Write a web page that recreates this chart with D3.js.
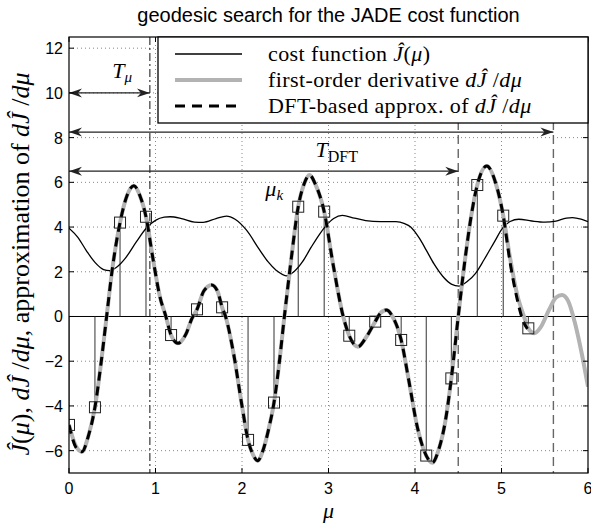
<!DOCTYPE html>
<html lang="en">
<head>
<meta charset="UTF-8">
<title>geodesic search for the JADE cost function</title>
<script src="https://d3js.org/d3.v7.min.js"></script>
<style>
  body { margin: 0; background: #fff; }
  svg { display: block; }
</style>
</head>
<body>
<div id="chart"></div>
<script>
// cost function J(mu)
const costMu  = [0.00, 0.10, 0.20, 0.30, 0.40, 0.47, 0.55, 0.65, 0.78, 0.90, 1.00, 1.10, 1.17, 1.30, 1.45, 1.55, 1.70, 1.82, 1.92, 2.05, 2.20, 2.30, 2.40, 2.51, 2.60, 2.70, 2.80, 2.90, 2.97, 3.06, 3.16, 3.30, 3.43, 3.60, 3.78, 3.88, 3.95, 4.05, 4.13, 4.22, 4.32, 4.42, 4.51, 4.60, 4.70, 4.80, 4.92, 5.01, 5.10, 5.20, 5.35, 5.50, 5.63, 5.75, 5.82, 5.92, 6.00];
const costVal = [3.95, 3.55, 2.95, 2.42, 2.10, 2.05, 2.20, 2.60, 3.35, 3.98, 4.30, 4.44, 4.46, 4.38, 4.22, 4.21, 4.38, 4.49, 4.35, 3.87, 3.00, 2.45, 2.05, 1.82, 2.00, 2.45, 3.10, 3.70, 4.05, 4.38, 4.52, 4.40, 4.29, 4.24, 4.24, 4.15, 4.00, 3.50, 2.97, 2.35, 1.80, 1.45, 1.36, 1.55, 1.93, 2.55, 3.35, 3.94, 4.25, 4.35, 4.27, 4.22, 4.27, 4.40, 4.42, 4.35, 4.24];

// first-order derivative dJ/dmu
const derivMu  = [0.00, 0.08, 0.15, 0.22, 0.30, 0.37, 0.435, 0.50, 0.59, 0.67, 0.75, 0.82, 0.89, 0.97, 1.05, 1.12, 1.18, 1.26, 1.35, 1.42, 1.48, 1.56, 1.65, 1.72, 1.77, 1.81, 1.90, 2.00, 2.07, 2.13, 2.18, 2.25, 2.31, 2.37, 2.43, 2.49, 2.57, 2.65, 2.72, 2.78, 2.85, 2.95, 3.05, 3.17, 3.24, 3.34, 3.44, 3.54, 3.60, 3.67, 3.74, 3.84, 3.93, 4.03, 4.13, 4.20, 4.27, 4.35, 4.42, 4.50, 4.58, 4.65, 4.72, 4.83, 4.93, 5.02, 5.10, 5.18, 5.26, 5.31, 5.38, 5.45, 5.55, 5.63, 5.70, 5.77, 5.85, 5.93, 6.00];
const derivVal = [-4.85, -5.80, -6.05, -5.40, -4.06, -2.10, 0.00, 2.10, 4.20, 5.40, 5.85, 5.40, 4.46, 2.60, 0.90, 0.00, -0.83, -1.20, -0.80, -0.10, 0.32, 1.15, 1.41, 1.10, 0.41, 0.00, -1.60, -4.00, -5.52, -6.20, -6.45, -5.90, -5.00, -3.85, -2.10, 0.00, 2.60, 4.91, 5.95, 6.33, 5.90, 4.69, 2.40, 0.00, -0.86, -1.35, -0.90, -0.23, 0.15, 0.29, 0.00, -1.05, -2.90, -5.00, -6.22, -6.54, -6.00, -4.70, -2.77, 0.00, 2.60, 4.50, 5.88, 6.73, 6.00, 4.51, 2.60, 1.00, 0.00, -0.53, -0.75, -0.50, 0.30, 0.85, 0.96, 0.70, -0.30, -1.70, -3.14];

// DFT-based approximation of dJ/dmu (stops at the last sample)
const dftMu  = [0.00, 0.08, 0.15, 0.22, 0.30, 0.37, 0.435, 0.50, 0.59, 0.67, 0.75, 0.82, 0.89, 0.97, 1.05, 1.12, 1.18, 1.26, 1.35, 1.42, 1.48, 1.56, 1.65, 1.72, 1.77, 1.81, 1.90, 2.00, 2.07, 2.13, 2.18, 2.25, 2.31, 2.37, 2.43, 2.49, 2.57, 2.65, 2.72, 2.78, 2.85, 2.95, 3.05, 3.17, 3.24, 3.34, 3.44, 3.54, 3.60, 3.67, 3.74, 3.84, 3.93, 4.03, 4.13, 4.20, 4.27, 4.35, 4.42, 4.50, 4.58, 4.65, 4.72, 4.83, 4.93, 5.02, 5.10, 5.18, 5.25, 5.30];
const dftVal = [-4.85, -5.85, -6.05, -5.40, -4.06, -2.10, 0.00, 2.10, 4.20, 5.40, 5.85, 5.40, 4.46, 2.60, 0.90, 0.00, -0.83, -1.20, -0.80, -0.10, 0.32, 1.15, 1.41, 1.10, 0.41, 0.00, -1.60, -4.00, -5.52, -6.20, -6.45, -5.90, -5.00, -3.85, -2.10, 0.00, 2.60, 4.91, 5.95, 6.33, 5.90, 4.69, 2.40, 0.00, -0.86, -1.35, -0.90, -0.23, 0.15, 0.29, 0.00, -1.05, -2.90, -5.00, -6.22, -6.54, -6.00, -4.70, -2.77, 0.00, 2.60, 4.50, 5.88, 6.73, 6.00, 4.51, 2.40, 0.80, -0.20, -0.55];

// samples mu_k
const sampleMu  = [0.00, 0.30, 0.59, 0.89, 1.18, 1.48, 1.77, 2.07, 2.37, 2.65, 2.95, 3.24, 3.54, 3.84, 4.13, 4.42, 4.72, 5.02, 5.31];
const sampleVal = [-4.85, -4.06, 4.20, 4.46, -0.83, 0.32, 0.41, -5.52, -3.85, 4.91, 4.69, -0.86, -0.23, -1.05, -6.22, -2.77, 5.88, 4.51, -0.53];

const xTicks = [0, 1, 2, 3, 4, 5, 6];
const yTicks = [-6, -4, -2, 0, 2, 4, 6, 8, 10, 12];

// period markers and arrows
const tMu = 0.935;
const tDftLines = [4.5, 5.6];
const arrowSpans = [[0, 0.935, 10], [0, 5.6, 8.25], [0, 4.5, 6.5]];

const W = 591, H = 523;
const pLeft = 69, pRight = 588, pTop = 37, pBottom = 473;

const svg = d3.select("#chart").append("svg")
  .attr("width", W).attr("height", H);

const x = d3.scaleLinear().domain([0, 6]).range([pLeft, pRight]);
const y = d3.scaleLinear().domain([-7, 12.5]).range([pBottom, pTop]);

const defs = svg.append("defs");
defs.append("clipPath").attr("id", "clip")
  .append("rect").attr("x", pLeft).attr("y", pTop)
  .attr("width", pRight - pLeft).attr("height", pBottom - pTop);
defs.append("marker")
  .attr("id", "arr")
  .attr("viewBox", "-13 -5 14 10")
  .attr("refX", 0).attr("refY", 0)
  .attr("markerWidth", 14).attr("markerHeight", 10)
  .attr("markerUnits", "userSpaceOnUse")
  .attr("orient", "auto-start-reverse")
  .append("path")
  .attr("d", "M0,0 L-13,-4.5 L-9,0 L-13,4.5 Z")
  .attr("fill", "#222");

// title
svg.append("text")
  .attr("x", (pLeft + pRight) / 2).attr("y", 22)
  .attr("text-anchor", "middle")
  .style("font-family", "'Liberation Sans', Arial, sans-serif")
  .style("font-size", "20px")
  .text("geodesic search for the JADE cost function");

// dotted grid
const grid = svg.append("g");
grid.selectAll("line.gx").data(xTicks.slice(1, -1)).join("line")
  .attr("x1", d => x(d)).attr("x2", d => x(d))
  .attr("y1", pTop).attr("y2", pBottom)
  .attr("stroke", "#888").attr("stroke-dasharray", "1,3");
grid.selectAll("line.gy").data(yTicks).join("line")
  .attr("x1", pLeft).attr("x2", pRight)
  .attr("y1", d => y(d)).attr("y2", d => y(d))
  .attr("stroke", "#888").attr("stroke-dasharray", "1,3");

// zero line
svg.append("line")
  .attr("x1", pLeft).attr("x2", pRight)
  .attr("y1", y(0)).attr("y2", y(0))
  .attr("stroke", "#000").attr("stroke-width", 1);

// vertical markers
svg.append("line")
  .attr("x1", x(tMu)).attr("x2", x(tMu))
  .attr("y1", pTop).attr("y2", pBottom)
  .attr("stroke", "#111").attr("stroke-width", 1)
  .attr("stroke-dasharray", "8,3,2,3");
svg.selectAll("line.tdft").data(tDftLines).join("line")
  .attr("x1", d => x(d)).attr("x2", d => x(d))
  .attr("y1", pTop).attr("y2", pBottom)
  .attr("stroke", "#666").attr("stroke-width", 1.4)
  .attr("stroke-dasharray", "9,5");

const plot = svg.append("g").attr("clip-path", "url(#clip)");

// stems
plot.selectAll("line.stem").data(sampleMu).join("line")
  .attr("x1", d => x(d)).attr("x2", d => x(d))
  .attr("y1", y(0)).attr("y2", (d, i) => y(sampleVal[i]))
  .attr("stroke", "#333").attr("stroke-width", 1);

const lineOf = (xs, ys) => d3.line()
  .x((d, i) => x(xs[i])).y((d, i) => y(ys[i]))
  .curve(d3.curveMonotoneX)(xs);

// cost function
plot.append("path")
  .attr("d", lineOf(costMu, costVal))
  .attr("fill", "none").attr("stroke", "#000").attr("stroke-width", 1.3);

// derivative
plot.append("path")
  .attr("d", lineOf(derivMu, derivVal))
  .attr("fill", "none").attr("stroke", "#b3b3b3").attr("stroke-width", 4);

// DFT approx
plot.append("path")
  .attr("d", lineOf(dftMu, dftVal))
  .attr("fill", "none").attr("stroke", "#000").attr("stroke-width", 3)
  .attr("stroke-dasharray", "9,6");

// sample squares
plot.selectAll("rect.samp").data(sampleMu).join("rect")
  .attr("x", d => x(d) - 5.5).attr("y", (d, i) => y(sampleVal[i]) - 5.5)
  .attr("width", 11).attr("height", 11)
  .attr("fill", "none").attr("stroke", "#222").attr("stroke-width", 1);

// arrows
svg.selectAll("line.arrow").data(arrowSpans).join("line")
  .attr("x1", d => x(d[0])).attr("x2", d => x(d[1]))
  .attr("y1", d => y(d[2])).attr("y2", d => y(d[2]))
  .attr("stroke", "#222").attr("stroke-width", 1.2)
  .attr("marker-start", "url(#arr)").attr("marker-end", "url(#arr)");

const serif = "'Liberation Serif', 'Times New Roman', serif";

// T_mu label
const tmu = svg.append("text")
  .attr("x", x(0.5)).attr("y", y(10.65))
  .style("font-family", serif).style("font-size", "22px");
tmu.append("tspan").style("font-style", "italic").text("T");
tmu.append("tspan").style("font-style", "italic").style("font-size", "15px").attr("dy", 4).text("μ");

// T_DFT label
const tdft = svg.append("text")
  .attr("x", x(2.85)).attr("y", y(7.15))
  .style("font-family", serif).style("font-size", "22px");
tdft.append("tspan").style("font-style", "italic").text("T");
tdft.append("tspan").style("font-size", "16px").attr("dy", 5).text("DFT");

// mu_k label
const muk = svg.append("text")
  .attr("x", x(2.27)).attr("y", y(5.4))
  .style("font-family", serif).style("font-size", "22px");
muk.append("tspan").style("font-style", "italic").text("μ");
muk.append("tspan").style("font-style", "italic").style("font-size", "15px").attr("dy", 4).text("k");

// frame and inward ticks
svg.append("rect")
  .attr("x", pLeft).attr("y", pTop)
  .attr("width", pRight - pLeft).attr("height", pBottom - pTop)
  .attr("fill", "none").attr("stroke", "#000").attr("stroke-width", 1.2);

const tickLen = 5;
svg.selectAll("line.xtb").data(xTicks).join("line")
  .attr("x1", d => x(d)).attr("x2", d => x(d))
  .attr("y1", pBottom).attr("y2", pBottom - tickLen).attr("stroke", "#000");
svg.selectAll("line.xtt").data(xTicks).join("line")
  .attr("x1", d => x(d)).attr("x2", d => x(d))
  .attr("y1", pTop).attr("y2", pTop + tickLen).attr("stroke", "#000");
svg.selectAll("line.ytl").data(yTicks).join("line")
  .attr("x1", pLeft).attr("x2", pLeft + tickLen)
  .attr("y1", d => y(d)).attr("y2", d => y(d)).attr("stroke", "#000");
svg.selectAll("line.ytr").data(yTicks).join("line")
  .attr("x1", pRight).attr("x2", pRight - tickLen)
  .attr("y1", d => y(d)).attr("y2", d => y(d)).attr("stroke", "#000");

const sans = "'Liberation Sans', Arial, sans-serif";
svg.selectAll("text.xtl").data(xTicks).join("text")
  .attr("x", d => x(d)).attr("y", pBottom + 21)
  .attr("text-anchor", "middle")
  .style("font-family", sans).style("font-size", "16px")
  .text(d => d);
svg.selectAll("text.ytl").data(yTicks).join("text")
  .attr("x", pLeft - 6).attr("y", d => y(d) + 6)
  .attr("text-anchor", "end")
  .style("font-family", sans).style("font-size", "16px")
  .text(d => d < 0 ? "\u2212" + Math.abs(d) : d);

// x label
svg.append("text")
  .attr("x", (pLeft + pRight) / 2).attr("y", pBottom + 45)
  .attr("text-anchor", "middle")
  .style("font-family", serif).style("font-size", "22px").style("font-style", "italic")
  .text("μ");

// y label
const yl = svg.append("text")
  .attr("transform", `translate(29,${(pTop + pBottom) / 2 + 9}) rotate(-90)`)
  .attr("text-anchor", "middle")
  .style("font-family", serif).style("font-size", "26px");
const ylParts = [["Ĵ", 1], ["(", 0], ["μ", 1], [")", 0], [", ", 0], ["d", 1], ["Ĵ", 1], [" /", 0], ["d", 1], ["μ", 1], [", approximation of ", 0], ["d", 1], ["Ĵ", 1], [" /", 0], ["d", 1], ["μ", 1]];
ylParts.forEach(p => yl.append("tspan").style("font-style", p[1] ? "italic" : "normal").text(p[0]));

// legend
const lg = svg.append("g");
lg.append("rect")
  .attr("x", 158).attr("y", pTop).attr("width", pRight - 158).attr("height", 86)
  .attr("fill", "#fff").attr("stroke", "#000").attr("stroke-width", 1.3);
const legendRows = [
  { stroke: "#000", width: 1.3, dash: null, parts: [["cost function ", 0], ["Ĵ", 1], ["(", 0], ["μ", 1], [")", 0]] },
  { stroke: "#b3b3b3", width: 4, dash: null, parts: [["first-order derivative ", 0], ["d", 1], ["Ĵ", 1], [" /", 0], ["d", 1], ["μ", 1]] },
  { stroke: "#000", width: 3, dash: "10,7", parts: [["DFT-based approx. of ", 0], ["d", 1], ["Ĵ", 1], [" /", 0], ["d", 1], ["μ", 1]] }
];
legendRows.forEach((r, i) => {
  const yy = pTop + 17 + i * 26;
  lg.append("line")
    .attr("x1", 175).attr("x2", 242).attr("y1", yy).attr("y2", yy)
    .attr("stroke", r.stroke).attr("stroke-width", r.width)
    .attr("stroke-dasharray", r.dash);
  const t = lg.append("text")
    .attr("x", 268).attr("y", yy + 7)
    .style("font-family", serif).style("font-size", "22px")
    .style("letter-spacing", "0.4px");
  r.parts.forEach(p => t.append("tspan").style("font-style", p[1] ? "italic" : "normal").text(p[0]));
});
</script>
</body>
</html>
